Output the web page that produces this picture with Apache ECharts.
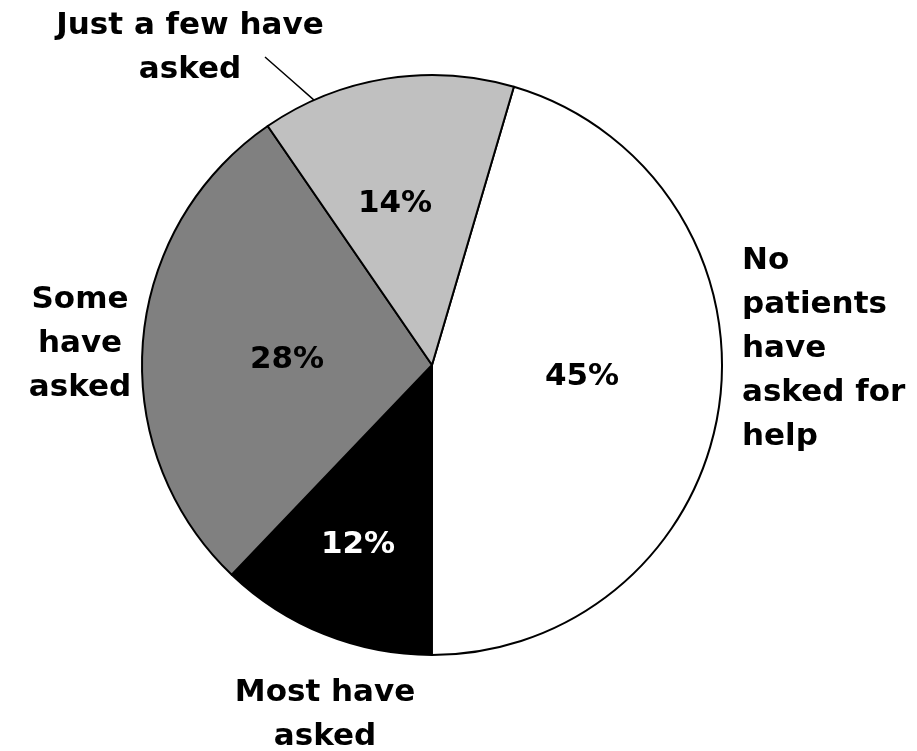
<!DOCTYPE html>
<html>
<head>
<meta charset="utf-8">
<script src="https://cdn.jsdelivr.net/npm/echarts@6/dist/echarts.min.js"></script>
<style>
  html, body { margin: 0; padding: 0; background: #fff; }
  #main { width: 917px; height: 751px; }
</style>
</head>
<body>
<div id="main"></div>
<script>
// slices, clockwise from the white one
const categories = [
  "No\npatients\nhave\nasked for\nhelp",
  "Most have\nasked",
  "Some\nhave\nasked",
  "Just a few have\nasked"
];
const values = [45, 12, 28, 14];

// styling
const sliceColors = ["#ffffff", "#000000", "#808080", "#c0c0c0"];
const percentColors = ["#000", "#fff", "#000", "#000"];
const percentPos = [[582, 377], [358, 545], [287, 360], [395, 204]];
const namePos = [
  { x: 742, y: 349, align: "left" },
  { x: 325, y: 715, align: "center" },
  { x: 80, y: 344, align: "center" },
  { x: 190, y: 48, align: "center" }
];
const cx = 432, cy = 365, r = 290;
const font = "DejaVu Sans";

const chart = echarts.init(document.getElementById("main"));

const sliceData = values.map((v, i) => ({
  name: categories[i],
  value: v,
  itemStyle: { color: sliceColors[i] },
  label: { color: percentColors[i] }
}));

const nameData = values.map((v, i) => ({
  name: categories[i],
  value: v,
  labelLine: { show: i === 3 }
}));

// leader line of "Just a few": from the rim (336 deg clockwise from top) up-left to the text
const leadAngle = 336 * Math.PI / 180;
const leadStart = [cx + r * Math.sin(leadAngle), cy - r * Math.cos(leadAngle)];
const leadEnd = [265, 57];
const leadMid = [(leadStart[0] + leadEnd[0]) / 2, (leadStart[1] + leadEnd[1]) / 2];

chart.setOption({
  animation: false,
  series: [
    {
      type: "pie",
      center: [cx, cy],
      radius: r,
      startAngle: 73.6,
      clockwise: true,
      silent: true,
      avoidLabelOverlap: false,
      itemStyle: { borderColor: "#000", borderWidth: 2 },
      label: {
        position: "inside",
        formatter: "{c}%",
        fontFamily: font,
        fontWeight: "bold",
        fontSize: 31
      },
      labelLayout: (p) => ({
        x: percentPos[p.dataIndex][0],
        y: percentPos[p.dataIndex][1],
        align: "center",
        verticalAlign: "middle"
      }),
      data: sliceData
    },
    {
      type: "pie",
      center: [cx, cy],
      radius: r,
      startAngle: 73.6,
      clockwise: true,
      silent: true,
      avoidLabelOverlap: false,
      itemStyle: { color: "rgba(0,0,0,0)", borderWidth: 0 },
      label: {
        position: "outside",
        formatter: "{b}",
        color: "#000",
        fontFamily: font,
        fontWeight: "bold",
        fontSize: 31,
        lineHeight: 44,
        width: 240,
        overflow: "none"
      },
      labelLine: {
        lineStyle: { color: "#000", width: 1.5 }
      },
      labelLayout: (p) => {
        const pos = namePos[p.dataIndex];
        const out = { x: pos.x, y: pos.y, align: pos.align, verticalAlign: "middle" };
        if (p.dataIndex === 3) {
          out.labelLinePoints = [leadStart, leadMid, leadEnd];
        }
        return out;
      },
      data: nameData
    }
  ]
});
</script>
</body>
</html>
